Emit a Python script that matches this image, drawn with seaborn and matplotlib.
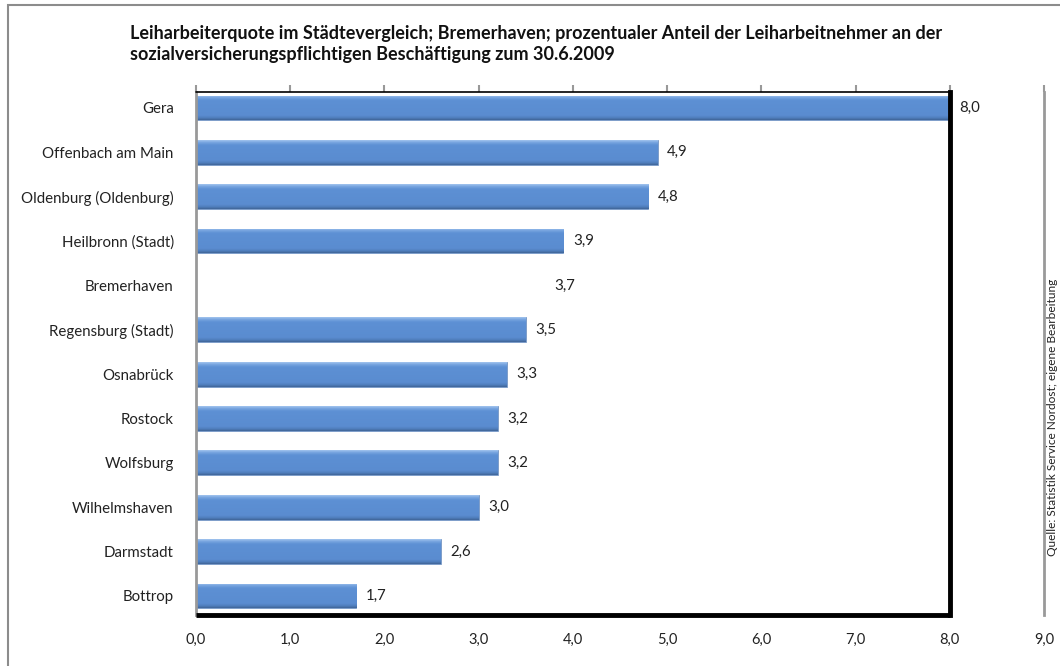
import numpy as np
import pandas as pd
import matplotlib
matplotlib.use("Agg")
import matplotlib.pyplot as plt
import seaborn as sns
from matplotlib.patches import Rectangle
from matplotlib.colors import LinearSegmentedColormap

cities = ["Gera", "Offenbach am Main", "Oldenburg (Oldenburg)", "Heilbronn (Stadt)",
          "Bremerhaven", "Regensburg (Stadt)", "Osnabrück", "Rostock", "Wolfsburg",
          "Wilhelmshaven", "Darmstadt", "Bottrop"]
values = [8.0, 4.9, 4.8, 3.9, 3.7, 3.5, 3.3, 3.2, 3.2, 3.0, 2.6, 1.7]
xticks = [0, 1, 2, 3, 4, 5, 6, 7, 8, 9]
xtick_labels = ["0,0", "1,0", "2,0", "3,0", "4,0", "5,0", "6,0", "7,0", "8,0", "9,0"]
title = ("Leiharbeiterquote im Städtevergleich; Bremerhaven; prozentualer Anteil der Leiharbeitnehmer an der\n"
         "sozialversicherungspflichtigen Beschäftigung zum 30.6.2009")
source = "Quelle: Statistik Service Nordost; eigene Bearbeitung"

df = pd.DataFrame({"city": cities, "value": values})

sns.set_theme(style="white")
plt.rcParams["font.family"] = ["Lato", "DejaVu Sans"]

fig = plt.figure(figsize=(10.6, 6.66), dpi=100)
ax = fig.add_axes([196 / 1060, 1 - 615 / 666, (1044 - 196) / 1060, (615 - 92) / 666])

palette = ["white" if c == "Bremerhaven" else "#5A8ED2" for c in cities]
sns.barplot(data=df, x="value", y="city", hue="city", palette=palette, legend=False,
            orient="h", width=0.56, ax=ax, saturation=1)

# gradient shading on bars
cmap = LinearSegmentedColormap.from_list(
    "bar", [(0.0, "#A3C4EE"), (0.1, "#75A3DF"), (0.2, "#5D90D4"),
            (0.82, "#5A8CD0"), (0.92, "#4F7DBB"), (1.0, "#3F6496")])
grad = np.linspace(0, 1, 128).reshape(-1, 1)
for patch, c in zip(ax.patches, cities):
    if c == "Bremerhaven":
        patch.set_edgecolor("white")
        continue
    x0, y0 = patch.get_x(), patch.get_y()
    w, h = patch.get_width(), patch.get_height()
    patch.set_edgecolor("#6D8FBE")
    patch.set_linewidth(0.5)
    im = ax.imshow(grad, cmap=cmap, aspect="auto",
                   extent=[x0, x0 + w, y0 + h, y0], zorder=patch.get_zorder() + 0.1,
                   interpolation="bilinear")
    im.set_clip_path(patch)

ax.set_xlim(0, 9)
ax.set_ylim(11.43, -0.36)
ax.set_xlabel("")
ax.set_ylabel("")
ax.set_xticks(xticks)
ax.set_xticklabels(xtick_labels, fontsize=10.5, color="#222222")
ax.tick_params(axis="x", bottom=False, top=True, labelbottom=True, labeltop=False,
               length=5, width=1.5, color="#999999", pad=8, direction="out")
ax.tick_params(axis="y", left=False, labelsize=10.8, pad=10, labelcolor="#222222")

for side in ["top", "bottom"]:
    ax.spines[side].set_visible(False)
for side in ["left", "right"]:
    ax.spines[side].set_visible(True)
    ax.spines[side].set_color("#999999")
    ax.spines[side].set_linewidth(2)

# black frame lines 0..8
ylo, yhi = ax.get_ylim()
ax.plot([0, 8], [yhi, yhi], color="black", lw=1.2, clip_on=False, zorder=5)
ax.plot([8, 8], [yhi, ylo], color="black", lw=3.5, clip_on=False, zorder=5,
        solid_capstyle="projecting")
ax.plot([0, 8], [ylo, ylo], color="black", lw=3.5, clip_on=False, zorder=5,
        solid_capstyle="butt")

for i, v in enumerate(values):
    ax.text(v + 0.1, i, f"{v:.1f}".replace(".", ","), va="center", ha="left",
            fontsize=10.8, color="#222222")

fig.text(130 / 1060, 1 - 44 / 666, title, fontsize=13, fontweight="bold",
         ha="left", va="center", linespacing=1.35, color="#111111")
fig.text(1052 / 1060, 1 - 417 / 666, source, rotation=90, fontsize=8.6,
         ha="center", va="center", color="#222222")

# outer chart border (only left and top visible in the crop)
fig.patches.append(Rectangle((8 / 1060, -0.1), 1.2, 1 - 5 / 666 + 0.1,
                             transform=fig.transFigure, fill=False,
                             edgecolor="#8c8c8c", lw=1.5))

fig.savefig("out.png", dpi=100, facecolor="white")
